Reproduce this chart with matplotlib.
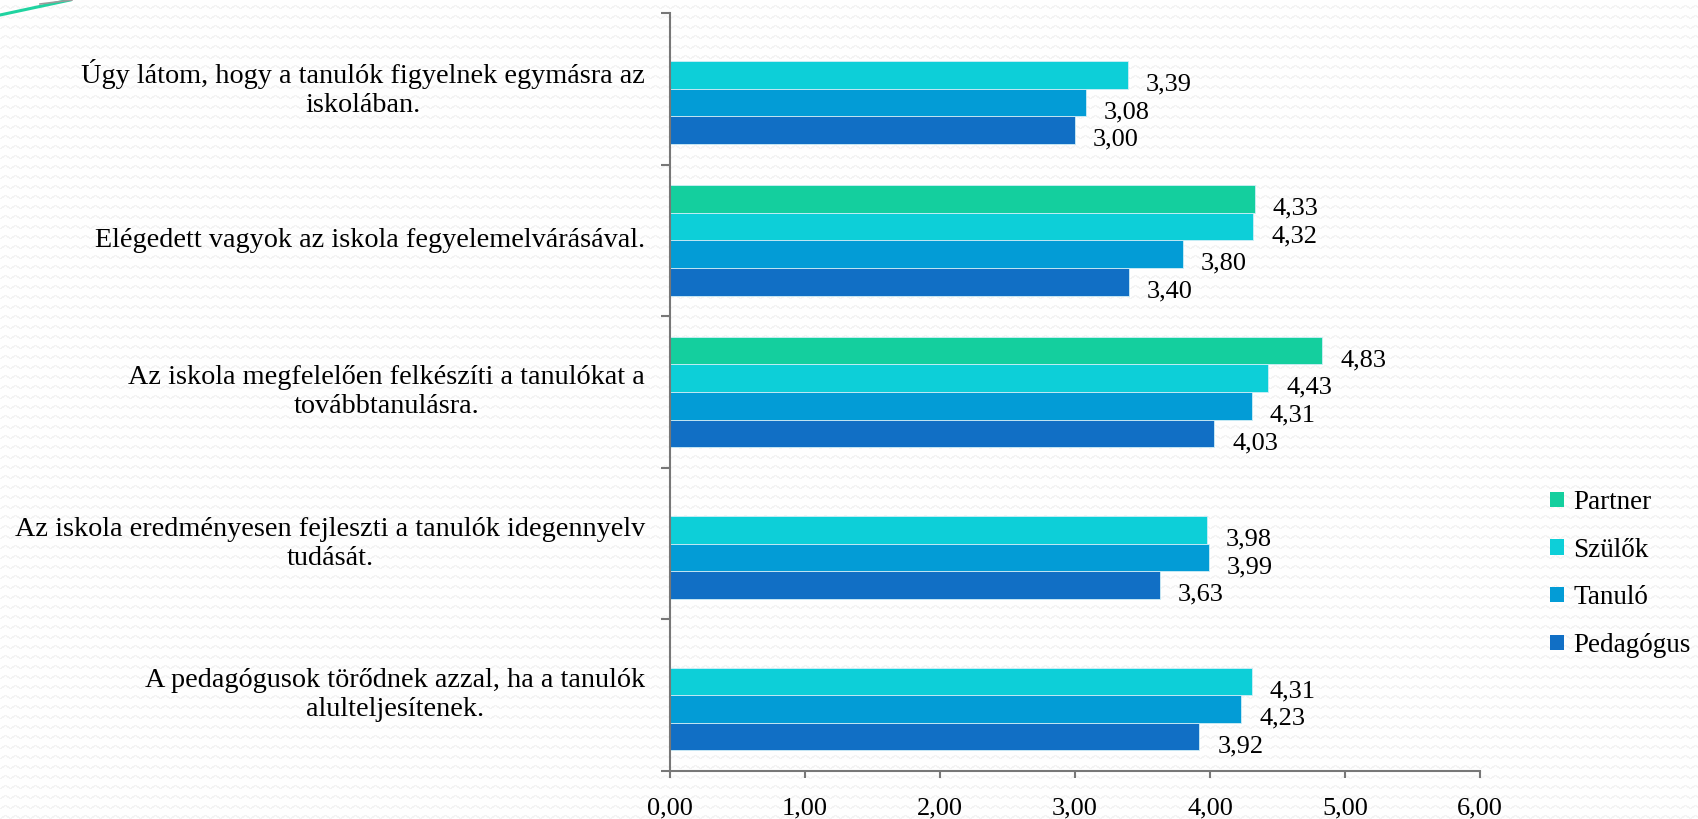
import numpy as np
import matplotlib
matplotlib.use("Agg")
import matplotlib.pyplot as plt
from matplotlib.patches import Patch
from matplotlib.lines import Line2D

categories = [
    "Úgy látom, hogy a tanulók figyelnek egymásra az\niskolában.",
    "Elégedett vagyok az iskola fegyelemelvárásával.",
    "Az iskola megfelelően felkészíti a tanulókat a\ntovábbtanulásra.",
    "Az iskola eredményesen fejleszti a tanulók idegennyelv\ntudását.",
    "A pedagógusok törődnek azzal, ha a tanulók\nalulteljesítenek.",
]
series_names = ["Partner", "Szülők", "Tanuló", "Pedagógus"]
partner = [None, 4.33, 4.83, None, None]
szulok = [3.39, 4.32, 4.43, 3.98, 4.31]
tanulo = [3.08, 3.80, 4.31, 3.99, 4.23]
pedagogus = [3.00, 3.40, 4.03, 3.63, 3.92]
x_ticks = [0, 1, 2, 3, 4, 5, 6]
x_ticklabels = ["0,00", "1,00", "2,00", "3,00", "4,00", "5,00", "6,00"]

series = [partner, szulok, tanulo, pedagogus]
colors = ["#14CF9E", "#0DCFD8", "#039CD6", "#116FC5"]

W, H = 1698, 819
fig = plt.figure(figsize=(W / 100, H / 100), dpi=100)
fig.patch.set_facecolor("white")

# subtle zigzag background texture
yy, xx = np.mgrid[0:H, 0:W]
tri = np.abs((xx % 10) - 5) * 0.6
d = np.abs(((yy - tri) % 10) - 5)
bg = np.where(d < 0.9, 0.955, 0.995)
fig.figimage(bg, xo=0, yo=0, cmap="gray", vmin=0, vmax=1, zorder=-10)

# decorative line top-left
fig.add_artist(Line2D([0, 70 / W], [1 - 15 / H, 1.0], transform=fig.transFigure,
                      color="#1FD3A0", lw=2.2))
fig.add_artist(Line2D([40 / W, 72 / W], [1 - 4 / H, 1.0], transform=fig.transFigure,
                      color="#9a9a9a", lw=1.2))

ax = fig.add_axes([670 / W, 1 - 771 / H, 810 / W, 758 / H])
ax.set_facecolor("none")
ax.set_zorder(5)

font = "Liberation Serif"
h = 0.182
offsets = [-1.5 * h, -0.5 * h, 0.5 * h, 1.5 * h]
y = np.arange(len(categories))
for vals, off, col, name in zip(series, offsets, colors, series_names):
    for i, v in enumerate(vals):
        if v is None:
            continue
        ax.barh(y[i] + off, v, height=h, color=col, edgecolor="#cfeef6",
                linewidth=0.6, zorder=2)
        ax.annotate(f"{v:.2f}".replace(".", ","), xy=(v, y[i] + off),
                    xytext=(13, -7), textcoords="offset points",
                    ha="left", va="center", fontsize=19, family=font,
                    color="black", zorder=3, annotation_clip=False)

ax.set_xlim(0, 6)
ax.set_ylim(len(categories) - 0.5, -0.5)
ax.set_xticks(x_ticks)
ax.set_xticklabels(x_ticklabels, family=font, fontsize=19)
ax.tick_params(axis="x", length=5, width=1.5, color="#777777", pad=14)

ax.set_yticks(y)
ax.set_yticklabels([])
ax.tick_params(axis="y", which="major", length=0)
ax.set_yticks(np.arange(-0.5, len(categories), 1), minor=True)
ax.tick_params(axis="y", which="minor", length=6.5, width=1.5, color="#777777")

for i, c in enumerate(categories):
    ax.annotate(c, xy=(0, y[i]), xycoords=("axes fraction", "data"),
                xytext=(-18, 0), textcoords="offset points",
                ha="right", va="center", multialignment="center",
                fontsize=20.3, family=font, linespacing=1.22, color="black",
                annotation_clip=False)

for s in ["top", "right"]:
    ax.spines[s].set_visible(False)
for s in ["left", "bottom"]:
    ax.spines[s].set_color("#777777")
    ax.spines[s].set_linewidth(1.5)

handles = [Patch(facecolor=c, edgecolor="none") for c in colors]
fig.legend(handles, series_names, loc="center left",
           bbox_to_anchor=(1550 / W, 1 - 574 / H), frameon=False,
           prop={"family": font, "size": 19.5}, handlelength=0.5,
           handleheight=0.5, handletextpad=0.35, labelspacing=0.84,
           borderpad=0, borderaxespad=0)

fig.savefig("out.png", dpi=100, facecolor=fig.get_facecolor())
